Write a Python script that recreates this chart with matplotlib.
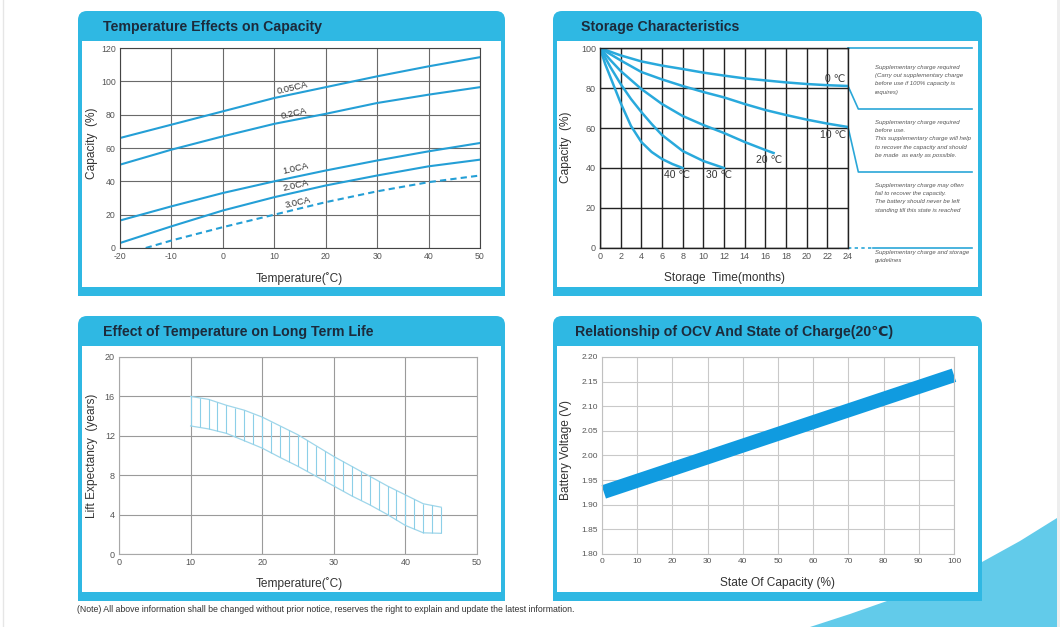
import matplotlib
matplotlib.use('Agg')
import numpy as np
import matplotlib.pyplot as plt
from matplotlib.patches import FancyBboxPatch, Rectangle, Polygon

# ---- data: temperature effects on capacity ----
temp_c = [-20, -10, 0, 10, 20, 30, 40, 50]
cap_005ca = [66, 74, 82, 90, 96.5, 103, 109, 114.5]
cap_02ca = [50, 59, 67, 74.5, 80.5, 87, 92, 96.5]
cap_10ca = [16.5, 25, 33, 40, 46.5, 52.5, 58, 63]
cap_20ca = [3, 13, 22.5, 30.5, 37.5, 43.5, 49, 53]
temp_30ca = [-15, -10, 0, 10, 20, 30, 40, 50]
cap_30ca = [0, 4.5, 12.5, 20, 27.5, 34, 39.5, 43.5]
rate_labels = ['0.05CA', '0.2CA', '1.0CA', '2.0CA', '3.0CA']

# ---- data: storage characteristics ----
months_0c = [0, 2, 4, 6, 8, 10, 12, 14, 16, 18, 20, 22, 24]
cap_0c = [100, 96.3, 93.3, 91.2, 89.5, 87.7, 86.2, 84.8, 83.8, 82.8, 82, 81.4, 81]
months_10c = [0, 2, 4, 6, 8, 10, 12, 14, 16, 18, 20, 22, 24]
cap_10c = [100, 93.8, 88, 84.3, 81, 78, 75.3, 72, 69, 66.5, 64.2, 62.2, 60.5]
months_20c = [0, 1, 2, 4, 6, 8, 10, 12, 14, 16, 16.8]
cap_20c = [100, 94, 88.5, 79.5, 72, 66, 61.5, 57.5, 53, 49, 47.5]
months_30c = [0, 1, 2, 3, 4, 5, 6, 8, 10, 12]
cap_30c = [100, 90.5, 82, 74.5, 68, 62, 56.5, 48.5, 43.5, 40]
months_40c = [0, 0.5, 1, 1.5, 2, 3, 4, 5, 6, 7, 8]
cap_40c = [100, 92, 85.5, 79, 72.5, 61, 53, 48, 44.5, 42, 40]
zone_levels = [100, 69.5, 38, 0]
zone_notes = [
    "Supplementary charge required\n(Carry out supplementary charge\nbefore use if 100% capacity is\nrequires)",
    "Supplementary charge required\nbefore use.\nThis supplementary charge will help\nto recover the capacity and should\nbe made  as early as possible.",
    "Supplementary charge may often\nfail to recover the capacity.\nThe battery should never be left\nstanding till this state is reached",
    "Supplementary charge and storage\nguidelines",
]

# ---- data: long term life ----
life_temp = [10, 12.5, 15, 17.5, 20, 22.5, 25, 27.5, 30, 32.5, 35, 37.5, 40, 42.5, 45]
life_upper = [16, 15.7, 15.1, 14.6, 13.9, 13.0, 12.1, 11.0, 9.9, 8.9, 7.9, 6.9, 6.0, 5.1, 4.75]
life_lower = [13, 12.7, 12.25, 11.5, 10.75, 9.8, 8.9, 7.9, 6.9, 5.9, 5.0, 4.0, 2.9, 2.15, 2.1]

# ---- data: OCV vs state of charge ----
soc = [0.5, 100]
ocv = [1.926, 2.163]

W, H = 1060, 627
BLUE = '#2fb8e3'
LINE = '#249fd6'
TITLE = '#1c2b3c'

plt.rcParams['font.family'] = ['Liberation Sans', 'DejaVu Sans']
plt.rcParams['axes.unicode_minus'] = False
fig = plt.figure(figsize=(W / 100, H / 100), dpi=100)
fig.patch.set_facecolor('white')


def px_axes(x0, y0, x1, y1):
    """axes placed by pixel box (top-left origin)"""
    return fig.add_axes([x0 / W, 1 - y1 / H, (x1 - x0) / W, (y1 - y0) / H])


bg = fig.add_axes([0, 0, 1, 1])
bg.set_xlim(0, W)
bg.set_ylim(H, 0)
bg.axis('off')

# decorative background bits
bg.add_patch(Polygon([(810, 627), (850, 614), (887, 601), (935, 582), (982, 562),
                      (1020, 541), (1057, 518), (1057, 627)], fc='#62cbea', ec='none'))
bg.add_patch(Rectangle((1057, 0), 3, H, fc='#eeeeee', ec='none'))
bg.plot([3, 3], [0, H], color='#e6e6e6', lw=1)


def panel(x0, y0, x1, y1, title, tx):
    bg.add_patch(FancyBboxPatch((x0, y0), x1 - x0, y1 - y0,
                                boxstyle='round,pad=0,rounding_size=9', fc=BLUE, ec='none'))
    bg.add_patch(Rectangle((x0, y0 + 20), x1 - x0, y1 - y0 - 20, fc=BLUE, ec='none'))
    bg.add_patch(Rectangle((x0 + 4, y0 + 30), x1 - x0 - 8, y1 - y0 - 39, fc='white', ec='none'))
    bg.text(tx, y0 + 16, title, fontsize=10.2, fontweight='bold', color=TITLE, va='center')


panel(78, 11, 505, 296, 'Temperature Effects on Capacity', 103)
panel(553, 11, 982, 296, 'Storage Characteristics', 581)
panel(78, 316, 505, 601, 'Effect of Temperature on Long Term Life', 103)
panel(553, 316, 982, 601, 'Relationship of OCV And State of Charge(20℃)', 575)

bg.text(77, 609, '(Note) All above information shall be changed without prior notice, '
        'reserves the right to explain and update the latest information.',
        fontsize=6.3, color='#333333', va='center')


def style(ax, grid_color, spine_color, lw=0.8, labelsize=6.3):
    ax.tick_params(length=0, labelsize=labelsize, labelcolor='#555555', pad=3)
    ax.grid(True, color=grid_color, lw=lw)
    ax.set_axisbelow(True)
    for s in ax.spines.values():
        s.set_color(spine_color)
        s.set_linewidth(lw)


LAB = dict(fontsize=8.6, color='#333333')

# ---- chart 1 ----
ax1 = px_axes(120, 48, 480, 248)
ax1.set_xlim(-20, 50)
ax1.set_ylim(0, 120)
ax1.set_xticks(range(-20, 51, 10))
ax1.set_yticks(range(0, 121, 20))
style(ax1, '#6a6a6a', '#444444')
for vals in [cap_005ca, cap_02ca, cap_10ca, cap_20ca]:
    ax1.plot(temp_c, vals, color=LINE, lw=1.5)
ax1.plot(temp_30ca, cap_30ca, color=LINE, lw=1.5, ls=(0, (3, 2)))
label_pos = [(13.6, 96), (13.8, 80.4), (14.2, 47.4), (14.2, 37.2), (14.6, 27)]
for lab, (lx, ly) in zip(rate_labels, label_pos):
    ax1.text(lx, ly, lab, fontsize=6.8, color='#333333', rotation=13, ha='center', va='center')
ax1.set_xlabel('Temperature(˚C)', **LAB)
ax1.set_ylabel('Capacity  (%)', **LAB)
ax1.xaxis.set_label_coords(0.497, -0.12)
ax1.yaxis.set_label_coords(-0.061, 0.525)

# ---- chart 2 ----
ax2 = px_axes(600, 48, 848, 248)
ax2.set_xlim(0, 24)
ax2.set_ylim(0, 100)
ax2.set_xticks(range(0, 25, 2))
ax2.set_yticks(range(0, 101, 20))
style(ax2, '#222222', '#222222', lw=1.0, labelsize=6.5)
SC = '#29a9dc'
ax2.plot(months_0c, cap_0c, color=SC, lw=1.8)
ax2.plot(months_10c, cap_10c, color=SC, lw=1.8)
ax2.plot(months_20c, cap_20c, color=SC, lw=1.8)
ax2.plot(months_30c, cap_30c, color=SC, lw=1.8)
ax2.plot(months_40c, cap_40c, color=SC, lw=1.8)
for txt, lx, ly in [('0 ℃', 22.8, 84.5), ('10 ℃', 22.6, 56.3), ('20 ℃', 16.4, 43.8),
                    ('40 ℃', 7.5, 36.3), ('30 ℃', 11.5, 36.3)]:
    ax2.text(lx, ly, txt, fontsize=7.5, color='#333333', ha='center', va='center')

# supplementary charge zones on the right
ZC = '#2aa7d8'
ax2.plot([24, 36], [zone_levels[0]] * 2, color=ZC, lw=1.2, clip_on=False)
ax2.plot([24, 25, 36], [cap_0c[-1], zone_levels[1], zone_levels[1]], color=ZC, lw=1.2, clip_on=False)
ax2.plot([24, 25, 36], [cap_10c[-1], zone_levels[2], zone_levels[2]], color=ZC, lw=1.2, clip_on=False)
ax2.plot([24, 26.4], [zone_levels[3]] * 2, color=ZC, lw=1.2, ls=(0, (2, 2)), clip_on=False)
ax2.plot([26.4, 36], [zone_levels[3]] * 2, color=ZC, lw=1.2, clip_on=False)
for note, ny in zip(zone_notes, [91.5, 64, 32.5, -1]):
    ax2.text(26.6, ny, note, fontsize=4.35, style='italic', color='#555555',
             va='top', ha='left', linespacing=1.8)
ax2.set_xlabel('Storage  Time(months)', **LAB)
ax2.set_ylabel('Capacity  (%)', **LAB)
ax2.xaxis.set_label_coords(0.5, -0.12)
ax2.yaxis.set_label_coords(-0.113, 0.505)

# ---- chart 3 ----
ax3 = px_axes(119, 357, 477, 554)
ax3.set_xlim(0, 50)
ax3.set_ylim(0, 20)
ax3.set_xticks(range(0, 51, 10))
ax3.set_yticks(range(0, 21, 4))
style(ax3, '#9a9a9a', '#a8a8a8', labelsize=6.5)
BC = '#9fd6ea'
ax3.plot(life_temp, life_upper, color=BC, lw=0.9)
ax3.plot(life_temp, life_lower, color=BC, lw=0.9)
hatch_x = np.arange(life_temp[0], life_temp[-1] + 0.01, 1.25)
ax3.vlines(hatch_x, np.interp(hatch_x, life_temp, life_lower),
           np.interp(hatch_x, life_temp, life_upper), color='#8ccfe8', lw=0.8)
ax3.set_xlabel('Temperature(˚C)', **LAB)
ax3.set_ylabel('Lift Expectancy  (years)', **LAB)
ax3.xaxis.set_label_coords(0.503, -0.117)
ax3.yaxis.set_label_coords(-0.059, 0.50)

# ---- chart 4 ----
ax4 = px_axes(602, 357, 954, 554)
ax4.set_xlim(0, 100)
ax4.set_ylim(1.80, 2.20)
ax4.set_xticks(range(0, 101, 10))
ax4.set_yticks(np.arange(1.80, 2.201, 0.05))
ax4.set_yticklabels([f'{v:.2f}' for v in np.arange(1.80, 2.201, 0.05)])
style(ax4, '#c9c9c9', '#c0c0c0', labelsize=6)
ax4.plot(soc, ocv, color='#109be0', lw=10, solid_capstyle='butt', clip_on=False)
ax4.set_xlabel('State Of Capacity (%)', **LAB)
ax4.set_ylabel('Battery Voltage (V)', **LAB)
ax4.xaxis.set_label_coords(0.5, -0.117)
ax4.yaxis.set_label_coords(-0.085, 0.53)

fig.savefig('out.png', dpi=100)
